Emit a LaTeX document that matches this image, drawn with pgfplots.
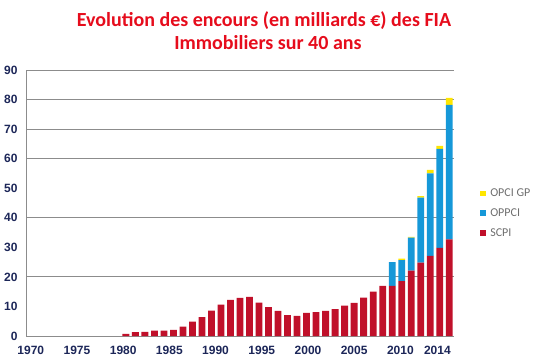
\documentclass[border=0pt]{standalone}
\usepackage{fontspec}
\setmainfont{Liberation Sans}
\newfontfamily\carlito{Carlito}
\usepackage{pgfplots}
\pgfplotsset{compat=1.18}
\definecolor{scpi}{RGB}{192,16,42}
\definecolor{oppci}{RGB}{22,152,216}
\definecolor{opcigp}{RGB}{255,230,0}
\definecolor{titlered}{RGB}{230,12,28}
\definecolor{ticknavy}{RGB}{28,38,88}
\definecolor{gridgray}{RGB}{140,140,140}
\definecolor{leggray}{RGB}{110,110,110}
\begin{document}
\begin{tikzpicture}
\path[use as bounding box] (0,0) rectangle (536bp,361bp);
\begin{axis}[
  at={(26bp,25bp)}, anchor=south west,
  scale only axis, width=428bp, height=266bp,
  ybar stacked, bar width=6.8bp,
  xmin=-0.5, xmax=44.5, ymin=0, ymax=90,
  axis lines*=left,
  axis line style={gridgray, line width=0.9bp},
  major tick length=0pt,
  ytick={0,10,...,90},
  xtick={0,4.86,9.72,14.57,19.43,24.29,29.15,34.0,38.86,42.75},
  xticklabels={1970,1975,1980,1985,1990,1995,2000,2005,2010,2014},
  /pgf/number format/assume math mode=true,
  ticklabel style={font=\bfseries\fontsize{12bp}{14bp}\selectfont, text=ticknavy},
  xticklabel style={yshift=-7bp},
  yticklabel style={xshift=-5bp},
  extra y ticks={20,40,60,70,80,90},
  extra y tick labels={},
  extra y tick style={grid=major, major grid style={gridgray, line width=0.9bp}},
  reverse legend,
  legend style={at={(1.061,0.562)}, anchor=north west, draw=none, fill=none,
    font=\carlito\fontsize{12bp}{14bp}\selectfont, text=leggray,
    row sep=6.5bp, inner sep=0pt},
  legend cell align=left,
  clip=false,
]
\addplot[fill=scpi, draw=none, legend image code/.code={\fill[scpi] (0bp,-2.8bp) rectangle (5.6bp,2.8bp); \path (8bp,0bp);}] coordinates {
(0,0) (1,0) (2,0) (3,0) (4,0) (5,0) (6,0) (7,0) (8,0) (9,0)
(10,0.7) (11,1.35) (12,1.4) (13,1.8) (14,1.85) (15,2.1) (16,3.2) (17,4.85) (18,6.4) (19,8.6)
(20,10.6) (21,12.2) (22,12.9) (23,13.2) (24,11.3) (25,9.8) (26,8.5) (27,7.1) (28,6.8) (29,7.8)
(30,8.1) (31,8.5) (32,9.1) (33,10.3) (34,11.2) (35,13.0) (36,15.0) (37,17.0) (38,17.0) (39,18.6)
(40,22.1) (41,24.8) (42,27.1) (43,29.8) (44,32.7)
};
\addlegendentry{SCPI}
\addplot[fill=oppci, draw=none, legend image code/.code={\fill[oppci] (0bp,-2.8bp) rectangle (5.6bp,2.8bp); \path (8bp,0bp);}] coordinates {
(0,0) (1,0) (2,0) (3,0) (4,0) (5,0) (6,0) (7,0) (8,0) (9,0)
(10,0) (11,0) (12,0) (13,0) (14,0) (15,0) (16,0) (17,0) (18,0) (19,0)
(20,0) (21,0) (22,0) (23,0) (24,0) (25,0) (26,0) (27,0) (28,0) (29,0)
(30,0) (31,0) (32,0) (33,0) (34,0) (35,0) (36,0) (37,0) (38,8.0) (39,7.1)
(40,11.2) (41,22.0) (42,27.9) (43,33.5) (44,45.5)
};
\addlegendentry{OPPCI}
\addplot[fill=opcigp, draw=none, legend image code/.code={\fill[opcigp] (0bp,-2.8bp) rectangle (5.6bp,2.8bp); \path (8bp,0bp);}] coordinates {
(0,0) (1,0) (2,0) (3,0) (4,0) (5,0) (6,0) (7,0) (8,0) (9,0)
(10,0) (11,0) (12,0) (13,0) (14,0) (15,0) (16,0) (17,0) (18,0) (19,0)
(20,0) (21,0) (22,0) (23,0) (24,0) (25,0) (26,0) (27,0) (28,0) (29,0)
(30,0) (31,0) (32,0) (33,0) (34,0) (35,0) (36,0) (37,0) (38,0) (39,0.5)
(40,0.2) (41,0.5) (42,1.2) (43,1.0) (44,2.4)
};
\addlegendentry{OPCI GP}
\end{axis}
\node[anchor=base, font=\carlito\bfseries\fontsize{20bp}{24bp}\selectfont, text=titlered] at (264bp,334bp) {Evolution des encours (en milliards €) des FIA};
\node[anchor=base, font=\carlito\bfseries\fontsize{20bp}{24bp}\selectfont, text=titlered] at (268bp,311bp) {Immobiliers sur 40 ans};
\end{tikzpicture}
\end{document}
